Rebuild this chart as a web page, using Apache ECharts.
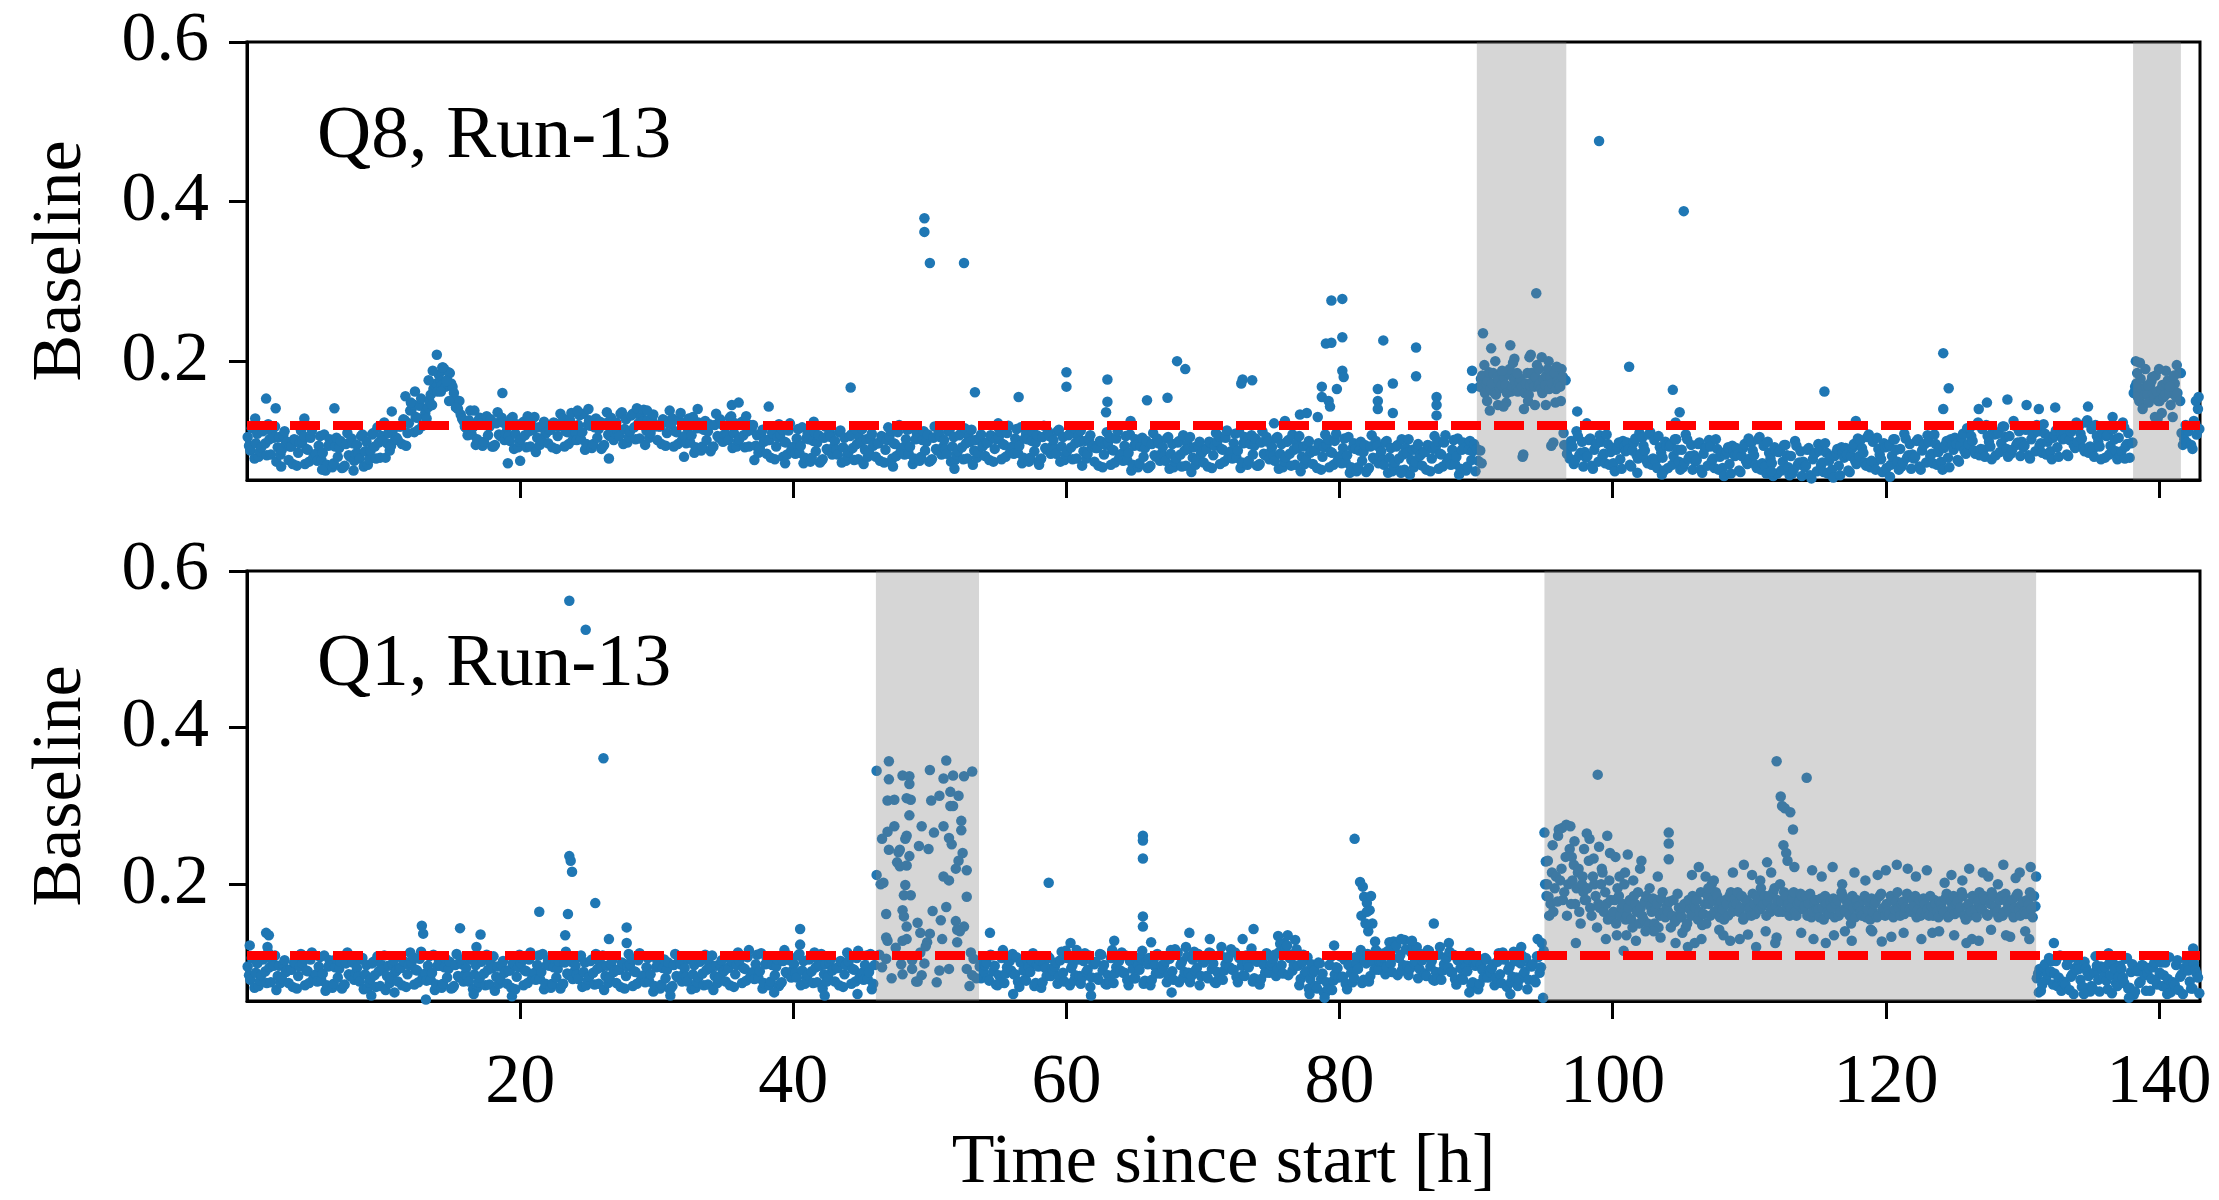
<!DOCTYPE html>
<html>
<head>
<meta charset="utf-8">
<script src="https://cdn.jsdelivr.net/npm/echarts@6/dist/echarts.min.js"></script>
<style>
html,body{margin:0;padding:0;background:#fff;}
#chart{width:2219px;height:1200px;}
</style>
</head>
<body>
<div id="chart"></div>
<script>
// ---------------- DATA ----------------
// Each row = one hour of readings, ten per hour (at +0.05, +0.15, ... +0.95 h); null = no reading shown
const q8Band = [
[.105,.094,.088,.116,.118,.078,.097,.109,.080,.087],
[.092,.112,.114,.097,.082,.121,.102,.083,.110,.104],
[.118,.074,.092,.105,.083,.089,.107,.112,.097,.099],
[.076,.093,.093,.071,.102,.101,.069,.085,.097,.113],
[.099,.106,.071,.090,.089,.074,.104,.113,.079,.080],
[.084,.075,.094,.106,.076,.085,.108,.063,.070,.094],
[.102,.095,.067,.072,.093,.104,.080,.091,.100,.066],
[.067,.069,.096,.110,.082,.080,.103,.097,.075,.084],
[.095,.084,.078,.106,.108,.068,.087,.099,.070,.077],
[.088,.108,.110,.093,.078,.117,.098,.079,.106,.100],
[.123,.079,.097,.110,.088,.094,.112,.117,.102,.104],
[.101,.118,.118,.096,.127,.126,.094,.110,.122,.138],
[.139,.146,.111,.130,.129,.114,.144,.153,.119,.120],
[.135,.128,.142,.150,.158,.145,.165,.170,.172,.162],
[.183,.175,.170,.192,.190,.168,.176,.186,.185,.172],
[.168,.160,.152,.145,.140,.150,.133,.128,.125,.118],
[.116,.107,.126,.138,.108,.117,.138,.095,.102,.126],
[.129,.122,.094,.099,.120,.131,.107,.118,.127,.093],
[.093,.095,.122,.136,.108,.106,.129,.123,.101,.110],
[.117,.106,.100,.128,.130,.090,.109,.121,.092,.099],
[.102,.122,.124,.107,.092,.131,.112,.093,.120,.114],
[.130,.086,.104,.117,.095,.101,.119,.124,.109,.111],
[.097,.114,.114,.092,.123,.122,.090,.106,.118,.134],
[.121,.128,.093,.112,.111,.096,.126,.135,.101,.102],
[.110,.101,.120,.132,.102,.111,.134,.089,.096,.120],
[.126,.119,.091,.096,.117,.128,.104,.115,.124,.090],
[.093,.095,.122,.136,.108,.106,.129,.123,.101,.110],
[.123,.112,.106,.134,.136,.096,.115,.127,.098,.105],
[.112,.132,.134,.117,.102,.141,.122,.103,.130,.124],
[.139,.095,.113,.126,.104,.110,.128,.133,.118,.120],
[.101,.118,.118,.096,.127,.126,.094,.110,.122,.138],
[.121,.128,.093,.112,.111,.096,.126,.135,.101,.102],
[.106,.097,.116,.128,.098,.107,.130,.085,.092,.116],
[.123,.116,.088,.093,.114,.125,.101,.112,.121,.087],
[.091,.093,.120,.134,.106,.104,.127,.121,.099,.108],
[.118,.107,.101,.129,.131,.091,.110,.122,.093,.100],
[.102,.122,.124,.107,.092,.131,.112,.093,.120,.114],
[.120,.076,.094,.107,.085,.091,.109,.114,.099,.101],
[.084,.101,.101,.079,.110,.109,.077,.093,.105,.121],
[.108,.115,.080,.099,.098,.083,.113,.122,.088,.089],
[.093,.084,.103,.115,.085,.094,.117,.072,.079,.103],
[.109,.102,.074,.079,.100,.111,.087,.098,.107,.073],
[.075,.077,.104,.118,.090,.088,.111,.105,.083,.092],
[.100,.089,.083,.111,.113,.073,.092,.104,.075,.082],
[.086,.106,.108,.091,.076,.115,.096,.077,.104,.098],
[.115,.071,.089,.102,.080,.086,.104,.109,.094,.096],
[.080,.097,.097,.075,.106,.105,.073,.089,.101,.117],
[.106,.113,.078,.097,.096,.081,.111,.120,.086,.087],
[.092,.083,.102,.114,.084,.093,.116,.071,.078,.102],
[.110,.103,.075,.080,.101,.112,.088,.099,.108,.074],
[.075,.077,.104,.118,.090,.088,.111,.105,.083,.092],
[.101,.090,.084,.112,.114,.074,.093,.105,.076,.083],
[.087,.107,.109,.092,.077,.116,.097,.078,.105,.099],
[.114,.070,.088,.101,.079,.085,.103,.108,.093,.095],
[.081,.098,.098,.076,.107,.106,.074,.090,.102,.118],
[.105,.112,.077,.096,.095,.080,.110,.119,.085,.086],
[.093,.084,.103,.115,.085,.094,.117,.072,.079,.103],
[.109,.102,.074,.079,.100,.111,.087,.098,.107,.073],
[.076,.078,.105,.119,.091,.089,.112,.106,.084,.093],
[.101,.090,.084,.112,.114,.074,.093,.105,.076,.083],
[.087,.107,.109,.092,.077,.116,.097,.078,.105,.099],
[.113,.069,.087,.100,.078,.084,.102,.107,.092,.094],
[.074,.091,.091,.069,.100,.099,.067,.083,.095,.111],
[.098,.105,.070,.089,.088,.073,.103,.112,.078,.079],
[.084,.075,.094,.106,.076,.085,.108,.063,.070,.094],
[.102,.095,.067,.072,.093,.104,.080,.091,.100,.066],
[.067,.069,.096,.110,.082,.080,.103,.097,.075,.084],
[.092,.081,.075,.103,.105,.065,.084,.096,.067,.074],
[.078,.098,.100,.083,.068,.107,.088,.069,.096,.090],
[.105,.061,.079,.092,.070,.076,.094,.099,.084,.086],
[.073,.090,.090,.068,.099,.098,.066,.082,.094,.110],
[.099,.106,.071,.090,.089,.074,.104,.113,.079,.080],
[.087,.078,.097,.109,.079,.088,.111,.066,.073,.097],
[.105,.098,.070,.075,.096,.107,.083,.094,.103,.069],
[.069,.071,.098,.112,.084,.082,.105,.099,.077,.086],
[.092,.081,.075,.103,.105,.065,.084,.096,.067,.074],
[.079,.099,.101,.084,.069,.108,.089,.070,.097,.091],
[.106,.062,.080,.093,.071,.077,.095,.100,.085,.087],
[.071,.088,.088,.066,.097,.096,.064,.080,.092,.108],
[.095,.102,.067,.086,.085,.070,.100,.109,.075,.076],
[.081,.072,.091,.103,.073,.082,.105,.060,.067,.091],
[.097,.090,.062,.067,.088,.099,.075,.086,.095,.061],
[.064,.066,.093,.107,.079,.077,.100,.094,.072,.081],
[.087,.076,.070,.098,.100,.060,.079,.091,.062,.069],
[.073,.093,.095,.078,.063,.102,.083,.064,.091,.085],
[.102,.058,.076,.089,.067,.073,.091,.096,.081,.083],
[.069,.086,.086,.064,.095,.094,.062,.078,.090,.106],
[.093,.100,.065,.084,.083,.068,.098,.107,.073,.074],
[.079,.070,.089,.101,.071,.080,.103,.058,.065,.089],
[.098,.091,.063,.068,.089,.100,.076,.087,.096,.062],
[.090,.075,.168,.178,.182,.165,.160,.172,.175,.186],
[.165,.172,.185,.160,.158,.180,.176,.166,.170,.182],
[.180,.170,.160,.185,.190,.162,.168,.178,.175,.165],
[.162,.175,.178,.168,.083,.160,.172,.185,.158,.170],
[.185,.175,.168,.180,.195,.170,.172,.165,.160,.178],
[.170,.182,.190,.165,.180,.172,.098,.185,.165,.175],
[.172,.168,.190,.180,.095,.176,.084,.092,.078,.100],
[.093,.071,.076,.112,.106,.082,.085,.099,.068,.086],
[.079,.081,.101,.103,.069,.065,.089,.096,.097,.074],
[.107,.099,.081,.084,.072,.108,.096,.070,.086,.091],
[.072,.062,.089,.093,.098,.077,.065,.100,.093,.087],
[.098,.090,.070,.068,.088,.098,.103,.082,.078,.110],
[.084,.104,.094,.088,.076,.072,.108,.111,.070,.078],
[.101,.075,.066,.106,.092,.085,.079,.063,.099,.094],
[.066,.093,.095,.070,.081,.102,.102,.089,.074,.064],
[.089,.067,.072,.108,.102,.078,.081,.095,.064,.082],
[.074,.076,.096,.098,.064,.060,.084,.091,.092,.069],
[.101,.093,.075,.078,.066,.102,.090,.064,.080,.085],
[.066,.056,.083,.087,.092,.071,.059,.094,.087,.081],
[.091,.083,.063,.061,.081,.091,.096,.075,.071,.103],
[.078,.098,.088,.082,.070,.066,.102,.105,.064,.072],
[.094,.068,.059,.099,.085,.078,.072,.056,.092,.087],
[.059,.086,.088,.063,.074,.095,.095,.082,.067,.057],
[.081,.059,.064,.100,.094,.070,.073,.087,.056,.074],
[.067,.069,.089,.091,.057,.053,.077,.084,.085,.062],
[.096,.088,.070,.073,.061,.097,.085,.059,.075,.080],
[.064,.054,.081,.085,.090,.069,.057,.092,.085,.079],
[.091,.083,.063,.061,.081,.091,.096,.075,.071,.103],
[.081,.101,.091,.085,.073,.069,.105,.108,.067,.075],
[.099,.073,.064,.104,.090,.083,.077,.061,.097,.092],
[.066,.093,.095,.070,.081,.102,.102,.089,.074,.064],
[.090,.068,.073,.109,.103,.079,.082,.096,.065,.083],
[.078,.080,.100,.102,.068,.064,.088,.095,.096,.073],
[.107,.099,.081,.084,.072,.108,.096,.070,.086,.091],
[.074,.064,.091,.095,.100,.079,.067,.102,.095,.089],
[.104,.096,.076,.074,.094,.104,.109,.088,.084,.116],
[.096,.116,.106,.100,.088,.084,.120,.123,.082,.090],
[.115,.089,.080,.120,.106,.099,.093,.077,.113,.108],
[.082,.109,.111,.086,.097,.118,.118,.105,.090,.080],
[.106,.084,.089,.125,.119,.095,.098,.112,.081,.099],
[.092,.094,.114,.116,.082,.078,.102,.109,.110,.087],
[.120,.112,.094,.097,.085,.121,.109,.083,.099,.104],
[.087,.077,.104,.108,.113,.092,.080,.115,.108,.102],
[.111,.103,.083,.081,.101,.111,.116,.095,.091,.123],
[.099,.119,.109,.103,.091,.087,.123,.126,.085,.093],
[.115,.089,.080,.120,.106,.099,.093,.077,.113,.108],
[.079,.106,.108,.083,.094,.115,.115,.102,.087,.077],
[.104,.082,.087,.123,.117,.093,.096,.110,.079,.097],
[.098,.160,.168,.172,.155,.150,.178,.165,.145,.158],
[.168,.158,.148,.170,.175,.160,.155,.182,.162,.150],
[.150,.165,.170,.155,.158,.172,.176,.160,.145,.168],
[.165,.172,.155,.160,.185,.150,.110,.095,.102,.120],
[.098,.112,.118,.095,.090,.125,.122,.108,.140,.115]
];
// Isolated readings of Q8: [time h, baseline]
const q8Extra = [
[1.4,.153],[2.1,.141],[0.6,.128],[6.4,.141],[4.2,.128],[10.6,.137],[11.6,.156],[12.3,.162],[12.0,.148],
[13.9,.208],[13.6,.188],[14.3,.192],[14.6,.175],[14.2,.162],[14.8,.150],[13.3,.176],[15.3,.142],[18.7,.160],
[19.1,.072],[20.0,.075],[24.2,.138],[25.0,.140],[29.3,.138],[33.0,.140],[35.5,.145],[2.5,.068],[5.5,.064],
[7.8,.063],[26.5,.078],[32.0,.080],
[36.0,.148],[38.2,.143],[39.4,.072],[44.2,.167],[49.6,.379],[49.6,.362],[50.0,.323],[52.5,.323],[53.3,.161],
[56.5,.155],[60.0,.186],[60.0,.168],[63.0,.177],[63.0,.149],[62.9,.136],[65.9,.151],[67.4,.154],[68.1,.200],
[68.7,.190],[51.8,.065],[58.0,.070],[47.3,.068],[41.5,.124],[55.0,.122],[64.7,.125],
[72.9,.177],[72.8,.172],[73.6,.176],[77.1,.133],[77.6,.135],[78.4,.130],[78.7,.168],[78.7,.155],[79.0,.222],
[79.4,.276],[80.2,.278],[79.4,.223],[80.2,.230],[80.2,.188],[80.3,.180],[79.8,.165],[79.2,.150],[79.3,.143],
[82.8,.165],[82.8,.150],[82.8,.140],[83.2,.226],[83.9,.172],[83.9,.135],[85.6,.217],[85.6,.181],[87.1,.155],
[87.1,.145],[87.1,.132],[89.7,.188],[89.7,.166],[76.0,.125],[75.2,.122],[84.5,.060],
[90.5,.235],[91.1,.216],[92.5,.220],[92.8,.203],[94.0,.208],[94.4,.285],[94.8,.205],[95.9,.193],[90.3,.088],
[90.4,.072],[93.4,.080],[95.5,.094],[96.4,.110],[90.8,.150],[91.6,.145],[92.2,.148],[93.8,.150],[95.1,.145],
[96.2,.150],[91.9,.188],[93.0,.185],[94.6,.190],[90.6,.195],[91.4,.200],[92.0,.143],[92.7,.198],[93.5,.140],
[94.3,.145],[95.3,.200],[95.8,.148],[91.0,.138],[93.9,.205],
[97.4,.137],[99.0,.476],[101.2,.193],[104.4,.164],[105.2,.388],[104.9,.136],[104.6,.123],[98.1,.122],
[101.8,.060],[103.6,.058],
[115.5,.162],[124.2,.210],[124.6,.166],[124.2,.140],[117.8,.125],[111.6,.062],[126.8,.140],[127.4,.148],
[128.9,.152],[130.3,.145],[131.2,.140],[132.4,.142],[134.8,.143],[136.6,.130],[120.3,.055],[137.5,.078],
[138.3,.200],[138.6,.198],[141.3,.195],[141.6,.185],[139.5,.180],[140.5,.188],[138.8,.140],[140.2,.135],
[141.0,.130],[139.2,.170],[140.8,.168],[138.4,.185],[139.0,.190],[139.7,.130],[140.0,.190],[141.1,.182],
[139.9,.128],[142.7,.150],[142.9,.155]
];

const q1Band = [
[.095,.084,.078,.106,.108,.068,.087,.099,.070,.077],
[.084,.104,.106,.089,.074,.113,.094,.075,.102,.096],
[.109,.065,.083,.096,.074,.080,.098,.103,.088,.090],
[.074,.091,.091,.069,.100,.099,.067,.083,.095,.111],
[.099,.106,.071,.090,.089,.074,.104,.113,.079,.080],
[.085,.076,.095,.107,.077,.086,.109,.064,.071,.095],
[.103,.096,.068,.073,.094,.105,.081,.092,.101,.067],
[.070,.072,.099,.113,.085,.083,.106,.100,.078,.087],
[.093,.082,.076,.104,.106,.066,.085,.097,.068,.075],
[.079,.099,.101,.084,.069,.108,.089,.070,.097,.091],
[.109,.065,.083,.096,.074,.080,.098,.103,.088,.090],
[.076,.093,.093,.071,.102,.101,.069,.085,.097,.113],
[.100,.107,.072,.091,.090,.075,.105,.114,.080,.081],
[.086,.077,.096,.108,.078,.087,.110,.065,.072,.096],
[.103,.096,.068,.073,.094,.105,.081,.092,.101,.067],
[.068,.070,.097,.111,.083,.081,.104,.098,.076,.085],
[.093,.082,.076,.104,.106,.066,.085,.097,.068,.075],
[.081,.101,.103,.086,.071,.110,.091,.072,.099,.093],
[.108,.064,.082,.095,.073,.079,.097,.102,.087,.089],
[.073,.090,.090,.068,.099,.098,.066,.082,.094,.110],
[.099,.106,.071,.090,.089,.074,.104,.113,.079,.080],
[.087,.078,.097,.109,.079,.088,.111,.066,.073,.097],
[.103,.096,.068,.073,.094,.105,.081,.092,.101,.067],
[.071,.073,.100,.114,.086,.084,.107,.101,.079,.088],
[.096,.085,.079,.107,.109,.069,.088,.100,.071,.078],
[.082,.102,.104,.087,.072,.111,.092,.073,.100,.094],
[.109,.065,.083,.096,.074,.080,.098,.103,.088,.090],
[.074,.091,.091,.069,.100,.099,.067,.083,.095,.111],
[.098,.105,.070,.089,.088,.073,.103,.112,.078,.079],
[.084,.075,.094,.106,.076,.085,.108,.063,.070,.094],
[.102,.095,.067,.072,.093,.104,.080,.091,.100,.066],
[.068,.070,.097,.111,.083,.081,.104,.098,.076,.085],
[.093,.082,.076,.104,.106,.066,.085,.097,.068,.075],
[.081,.101,.103,.086,.071,.110,.091,.072,.099,.093],
[.109,.065,.083,.096,.074,.080,.098,.103,.088,.090],
[.076,.093,.093,.071,.102,.101,.069,.085,.097,.113],
[.102,.109,.074,.093,.092,.077,.107,.116,.082,.083],
[.088,.079,.098,.110,.080,.089,.112,.067,.074,.098],
[.106,.099,.071,.076,.097,.108,.084,.095,.104,.070],
[.073,.075,.102,.116,.088,.086,.109,.103,.081,.090],
[.098,.087,.081,.109,.111,.071,.090,.102,.073,.080],
[.084,.104,.106,.089,.074,.113,.094,.075,.102,.096],
[.111,.067,.085,.098,.076,.082,.100,.105,.090,.092],
[.076,.093,.093,.071,.102,.101,.069,.085,.097,.113],
[.101,.108,.073,.092,.091,.076,.106,.115,.081,.082],
[.087,.078,.097,.109,.079,.088,.111,.066,.073,.097],
[null,null,null,null,null,null,null,null,null,null],
[null,null,null,null,null,null,null,null,null,null],
[null,null,null,null,null,null,null,null,null,null],
[null,null,null,null,null,null,null,null,null,null],
[null,null,null,null,null,null,null,null,null,null],
[null,null,null,null,null,null,null,null,null,null],
[null,null,null,null,null,null,null,null,null,null],
[null,null,null,null,null,null,.095,.080,.102,.088],
[.097,.100,.080,.077,.110,.109,.089,.096,.072,.071],
[.084,.075,.106,.116,.074,.086,.094,.103,.102,.090],
[.111,.085,.085,.107,.076,.069,.100,.100,.090,.078],
[.077,.103,.094,.088,.103,.112,.070,.074,.098,.095],
[.103,.068,.075,.099,.093,.083,.108,.106,.083,.093],
[.090,.095,.100,.073,.082,.103,.114,.087,.076,.115],
[.106,.109,.071,.093,.097,.077,.084,.116,.104,.083],
[.073,.081,.102,.112,.088,.091,.109,.069,.081,.100],
[.098,.101,.081,.078,.111,.110,.090,.097,.073,.072],
[.084,.075,.106,.116,.074,.086,.094,.103,.102,.090],
[.113,.087,.087,.109,.078,.071,.102,.102,.092,.080],
[.080,.106,.097,.091,.106,.115,.073,.077,.101,.098],
[.106,.071,.078,.102,.096,.086,.111,.109,.086,.096],
[.092,.097,.102,.075,.084,.105,.116,.089,.078,.117],
[.110,.113,.075,.097,.101,.081,.088,.120,.108,.087],
[.075,.083,.104,.114,.090,.093,.111,.071,.083,.102],
[.100,.103,.083,.080,.113,.112,.092,.099,.075,.074],
[.088,.079,.110,.120,.078,.090,.098,.107,.106,.094],
[.117,.091,.091,.113,.082,.075,.106,.106,.096,.084],
[.083,.109,.100,.094,.109,.118,.076,.080,.104,.101],
[.107,.072,.079,.103,.097,.087,.112,.110,.087,.097],
[.100,.105,.110,.083,.092,.113,.124,.097,.086,.125],
[.119,.122,.084,.106,.110,.090,.097,.129,.117,.096],
[.071,.079,.100,.110,.086,.089,.107,.067,.079,.098],
[.087,.090,.070,.067,.100,.099,.079,.086,.062,.061],
[.075,.066,.097,.107,.065,.077,.085,.094,.093,.081],
[.108,.082,.082,.104,.073,.066,.097,.097,.087,.075],
[.081,.107,.098,.092,.107,.116,.074,.078,.102,.099],
[.111,.076,.083,.107,.101,.091,.116,.114,.091,.101],
[.102,.107,.112,.085,.094,.115,.126,.099,.088,.127],
[.119,.122,.084,.106,.110,.090,.097,.129,.117,.096],
[.084,.092,.113,.123,.099,.102,.120,.080,.092,.111],
[.103,.106,.086,.083,.116,.115,.095,.102,.078,.077],
[.088,.079,.110,.120,.078,.090,.098,.107,.106,.094],
[.114,.088,.088,.110,.079,.072,.103,.103,.093,.081],
[.078,.104,.095,.089,.104,.113,.071,.075,.099,.096],
[.101,.066,.073,.097,.091,.081,.106,.104,.081,.091],
[.088,.093,.098,.071,.080,.101,.112,.085,.074,.113],
[.104,.107,.069,.091,.095,.075,.082,.114,.102,.081],
[.070,.078,.099,.109,.085,.088,.106,.066,.078,.097],
[.095,.098,.078,.075,.108,.107,.087,.094,.110,.115],
[.200,.185,.230,.160,.175,.215,.165,.195,.210,.178],
[.270,.205,.220,.180,.190,.235,.160,.200,.245,.175],
[.205,.225,.175,.195,.215,.165,.150,.200,.190,.180],
[.180,.195,.230,.170,.160,.210,.200,.185,.145,.175],
[.170,.200,.215,.165,.190,.175,.155,.205,.180,.160],
[.165,.180,.150,.195,.185,.160,.170,.175,.200,.155],
[.160,.170,.180,.155,.145,.185,.175,.165,.190,.150],
[.170,.160,.155,.178,.185,.150,.148,.172,.165,.182],
[.150,.168,.175,.145,.160,.182,.190,.165,.158,.172],
[.165,.178,.145,.160,.180,.152,.155,.188,.170,.162],
[.158,.170,.175,.145,.150,.180,.168,.160,.185,.172],
[.170,.180,.155,.165,.190,.148,.162,.175,.150,.185],
[.175,.160,.200,.180,.165,.190,.185,.170,.158,.178],
[.168,.155,.180,.175,.160,.185,.190,.165,.172,.182],
[.175,.190,.165,.170,.185,.155,.158,.180,.178,.168],
[.170,.160,.188,.175,.162,.185,.180,.168,.195,.172],
[.175,.185,.160,.178,.185,.165,.170,.190,.195,.172],
[.180,.165,.200,.178,.165,.190,.185,.172,.175,.160],
[.170,.182,.190,.165,.160,.175,.178,.188,.185,.168],
[.172,.185,.160,.175,.188,.158,.165,.178,.180,.168],
[.168,.158,.182,.170,.155,.185,.175,.165,.162,.178],
[.170,.182,.158,.175,.180,.160,.165,.190,.185,.168],
[.165,.178,.175,.160,.150,.185,.170,.158,.180,.172],
[.172,.165,.160,.180,.185,.158,.168,.178,.155,.182],
[.165,.175,.178,.158,.160,.185,.188,.168,.170,.160],
[.175,.165,.162,.185,.180,.158,.168,.178,.190,.170],
[.160,.175,.178,.162,.170,.188,.185,.168,.165,.180],
[.172,.185,.158,.168,.180,.160,.165,.182,.175,.162],
[.168,.160,.185,.172,.160,.180,.175,.165,.158,.178],
[.175,.168,.165,.182,.188,.158,.160,.178,.170,.185],
[.162,.175,.178,.165,.170,.190,.185,.160,.155,.172],
[.175,.160,.165,.185,.182,.168,.158,.178,.190,.170],
[.168,.185,.180,.162,.160,.178,.175,.190,.185,.165],
[.172,.165,.158,.180,.185,.160,.165,.188,.178,.170],
[.165,.178,.180,.158,.170,.185,.188,.168,.160,.175],
[.178,.165,.162,.180,.175,.190,.168,.158,.185,.172],
[.080,.086,.092,.064,.072,.094,.098,.078,.085,.106],
[.089,.102,.072,.086,.102,.070,.081,.109,.064,.076],
[.075,.072,.097,.103,.065,.082,.085,.060,.093,.091],
[.104,.092,.078,.069,.069,.101,.093,.088,.083,.063],
[.070,.067,.087,.108,.096,.078,.063,.095,.091,.082],
[.094,.077,.066,.099,.084,.061,.099,.092,.074,.070],
[.082,.096,.092,.081,.074,.105,.106,.067,.068,.088],
[.098,.059,.063,.090,.089,.074,.076,.097,.096,.084],
[.064,.086,.093,.064,.079,.094,.100,.078,.072,.106],
[.087,.100,.070,.084,.100,.068,.079,.107,.062,.074],
[.075,.072,.097,.103,.065,.082,.085,.060,.093,.091],
[.102,.090,.076,.067,.067,.099,.091,.086,.081,.061]
];
// Isolated readings of Q1: [time h, baseline]
const q1Extra = [
[1.4,.138],[1.6,.135],[1.5,.120],[0.2,.122],[12.8,.147],[12.9,.137],[15.6,.144],[17.1,.136],[16.8,.120],
[21.4,.165],[23.6,.562],[24.8,.525],[26.1,.361],[23.6,.236],[23.7,.230],[23.8,.216],[23.5,.162],[23.3,.135],
[25.5,.176],[27.8,.145],[26.5,.130],[27.8,.125],[9.1,.058],[10.8,.062],[13.1,.053],[16.6,.060],[19.4,.057],
[31.0,.058],[40.5,.143],[40.5,.123],[38.6,.062],[42.3,.058],[44.7,.060],
[46.1,.345],[47.0,.357],[47.0,.334],[46.9,.307],[47.4,.308],[48.0,.339],[48.5,.338],[48.5,.328],[48.3,.310],
[48.6,.308],[48.5,.288],[47.4,.274],[46.9,.267],[46.5,.258],[47.0,.244],[47.8,.244],[48.2,.258],[48.3,.262],
[47.7,.241],[48.5,.236],[47.6,.228],[47.8,.223],[48.3,.224],[46.1,.212],[46.4,.200],[46.6,.202],[48.2,.199],
[48.1,.186],[48.6,.186],[48.0,.167],[48.1,.159],[46.8,.162],[48.3,.146],[49.1,.151],[49.3,.138],[48.0,.128],
[48.3,.130],[46.8,.132],[46.9,.128],[47.5,.119],[46.8,.105],[46.5,.094],[48.0,.085],[48.7,.103],[48.7,.092],
[49.1,.076],[49.4,.084],[49.3,.113],[49.8,.126],[49.4,.274],[49.2,.249],[49.9,.245],[50.3,.266],[50.0,.346],
[51.0,.335],[51.2,.358],[51.7,.339],[52.5,.338],[53.1,.344],[50.1,.307],[50.7,.313],[51.5,.318],[52.1,.313],
[51.5,.300],[51.7,.300],[51.0,.274],[52.3,.281],[52.3,.269],[51.4,.259],[51.6,.251],[52.4,.240],[52.1,.230],
[51.9,.220],[52.7,.218],[51.0,.210],[51.4,.205],[52.7,.184],[50.2,.166],[51.2,.171],[50.8,.154],[51.9,.153],
[52.0,.142],[52.5,.146],[50.0,.137],[50.9,.130],[52.2,.140],[51.4,.092],[50.7,.090],[52.7,.092],[53.1,.084],
[49.6,.099],[49.7,.121],[53.0,.113],[53.2,.105],[49.0,.076],[52.0,.126],[47.2,.080],[50.5,.075],[52.9,.070],
[53.4,.080],[46.3,.110],[47.9,.098],
[54.4,.138],[58.7,.202],[65.6,.262],[65.6,.256],[65.6,.233],[65.6,.159],[65.6,.146],[66.2,.126],[69.0,.138],
[70.5,.130],[60.3,.125],[63.5,.128],[56.1,.060],[61.8,.058],[67.7,.062],
[73.7,.143],[72.9,.130],[75.5,.134],[76.2,.135],[77.8,.060],[78.9,.055],[79.6,.122],[81.1,.258],[81.5,.203],
[81.7,.197],[81.8,.184],[82.0,.176],[82.2,.167],[81.6,.160],[82.4,.150],[82.1,.140],[82.6,.127],[81.9,.150],
[82.3,.185],[82.0,.165],[84.5,.130],[85.3,.128],[86.9,.150],[88.0,.125],[89.5,.062],[92.5,.060],[93.3,.120],
[94.5,.130],[94.8,.125],[94.9,.055],
[95.0,.266],[95.1,.229],[95.2,.200],[95.3,.184],[96.3,.272],[96.6,.276],[96.9,.274],[97.0,.235],[97.5,.220],
[97.8,.210],[98.3,.258],[98.6,.233],[99.6,.262],[98.9,.340],[99.2,.220],[100.5,.210],[101.5,.205],[102.7,.195],
[104.1,.266],[104.1,.252],[104.1,.232],[103.0,.140],[101.0,.135],[99.5,.130],[97.3,.125],[100.8,.115],
[105.5,.120],[106.8,.210],[107.4,.205],[107.0,.195],[112.0,.357],[112.3,.312],[112.4,.300],[112.6,.297],
[113.0,.292],[113.2,.270],[114.2,.336],[112.5,.250],[112.7,.240],[112.8,.230],[113.3,.222],[111.6,.215],
[110.8,.205],[109.3,.130],[108.1,.135],[115.6,.125],[117.0,.140],[120.0,.218],[121.6,.220],[119.0,.140],
[123.4,.138],[125.6,.205],[127.1,.215],[128.2,.200],[129.5,.208],[131.0,.210],[126.3,.130],[128.8,.135],
[130.2,.140],[116.8,.200],[118.5,.205],[124.3,.202],[110.5,.120],[106.0,.125],
[95.6,.250],[96.0,.262],[97.2,.255],[97.9,.245],[98.1,.265],[99.0,.248],[99.8,.240],[100.2,.235],[101.1,.238],
[102.1,.230],
[100.3,.135],[101.7,.128],[102.4,.140],[103.5,.132],[105.1,.138],[106.5,.130],[107.8,.142],[108.6,.128],
[109.9,.136],[111.2,.140],[112.0,.132],[113.8,.138],[114.7,.130],[116.2,.135],[117.5,.128],[118.9,.142],
[120.4,.133],[121.3,.138],[122.6,.130],[123.9,.140],[125.0,.135],[126.8,.128],[127.7,.142],[129.1,.133],
[130.5,.130],[104.6,.125],[111.9,.125],[119.7,.127],[125.9,.125],
[100.9,.215],[102.0,.220],[103.3,.210],[105.8,.212],[106.3,.222],[108.8,.215],[109.6,.225],[110.2,.212],
[111.3,.228],[114.6,.218],[115.3,.210],[116.1,.222],[117.7,.215],[119.4,.212],[120.8,.225],[122.2,.210],
[123.0,.218],[124.8,.212],[126.1,.220],[127.5,.210],[128.6,.225],[129.8,.215],[130.6,.222],
[132.3,.125],[131.2,.062],[134.5,.060],[137.8,.055],[140.6,.060],[142.5,.118],[136.3,.112]
];

const q8Spans = [[90.05, 96.6], [138.1, 141.6]];
const q1Spans = [[46.05, 53.6], [95.0, 131.0]];
const q8Threshold = 0.117;
const q1Threshold = 0.114;
const q8Label = 'Q8, Run-13';
const q1Label = 'Q1, Run-13';
const xTicks = [20, 40, 60, 80, 100, 120, 140];
const yTicks = [0.2, 0.4, 0.6];

// ---------------- CHART ----------------
const FONT = '"Liberation Serif", "Times New Roman", serif';
function bandPoints(rows) {
  const pts = [];
  rows.forEach((r, h) => r.forEach((v, k) => { if (v !== null) pts.push([h + 0.05 + 0.1 * k, v]); }));
  return pts;
}
const grids = [
  {left: 247, top: 42, width: 1953, height: 438},
  {left: 247, top: 571, width: 1953, height: 438}
];
function xAx(i, labels) {
  return {
    gridIndex: i, type: 'value', min: 0, max: 143,
    axisLine: {show: true, onZero: false, lineStyle: {color: '#000', width: 3}},
    axisTick: {show: true, customValues: xTicks, length: 18, lineStyle: {color: '#000', width: 3}},
    axisLabel: labels ? {show: true, customValues: xTicks, fontSize: 70, fontFamily: FONT, color: '#000', margin: 48} : {show: false},
    splitLine: {show: false},
    name: labels ? 'Time since start [h]' : '',
    nameLocation: 'middle', nameGap: 128,
    nameTextStyle: {fontSize: 70, fontFamily: FONT, color: '#000'}
  };
}
function yAx(i) {
  return {
    gridIndex: i, type: 'value', min: 0.051, max: 0.6,
    axisLine: {show: true, onZero: false, lineStyle: {color: '#000', width: 3}},
    axisTick: {show: true, customValues: yTicks, length: 18, lineStyle: {color: '#000', width: 3}},
    axisLabel: {show: true, customValues: yTicks, formatter: v => v.toFixed(1), fontSize: 70, fontFamily: FONT, color: '#000', margin: 38},
    splitLine: {show: false},
    name: 'Baseline', nameLocation: 'middle', nameRotate: 90, nameGap: 150,
    nameTextStyle: {fontSize: 70, fontFamily: FONT, color: '#000'}
  };
}
function panelSeries(i, band, extra, spans, thr) {
  return {
    type: 'scatter', xAxisIndex: i, yAxisIndex: i, z: 2,
    symbol: 'circle', symbolSize: 10.5,
    itemStyle: {color: '#1f77b4', opacity: 1},
    data: bandPoints(band).concat(extra),
    clip: true, silent: true, large: false, progressive: 0,
    markArea: {
      z: 3, silent: true,
      itemStyle: {color: 'rgba(128,128,128,0.32)'},
      data: spans.map(s => [{xAxis: s[0]}, {xAxis: s[1]}])
    },
    markLine: {
      z: 5, silent: true, symbol: ['none', 'none'],
      label: {show: false},
      lineStyle: {color: '#ff0000', width: 9, type: [30, 13], opacity: 1},
      data: [{yAxis: thr}]
    }
  };
}
const chart = echarts.init(document.getElementById('chart'), null, {renderer: 'canvas'});
chart.setOption({
  animation: false,
  backgroundColor: '#ffffff',
  grid: grids.map(g => Object.assign({show: true, borderColor: '#000', borderWidth: 3, backgroundColor: 'transparent'}, g)),
  xAxis: [xAx(0, false), xAx(1, true)],
  yAxis: [yAx(0), yAx(1)],
  series: [
    panelSeries(0, q8Band, q8Extra, q8Spans, q8Threshold),
    panelSeries(1, q1Band, q1Extra, q1Spans, q1Threshold)
  ],
  graphic: [
    {type: 'text', left: 317, top: 100, z: 10, style: {text: q8Label, font: '75px ' + FONT, fill: '#000'}},
    {type: 'text', left: 317, top: 628, z: 10, style: {text: q1Label, font: '75px ' + FONT, fill: '#000'}}
  ]
});
</script>
</body>
</html>
